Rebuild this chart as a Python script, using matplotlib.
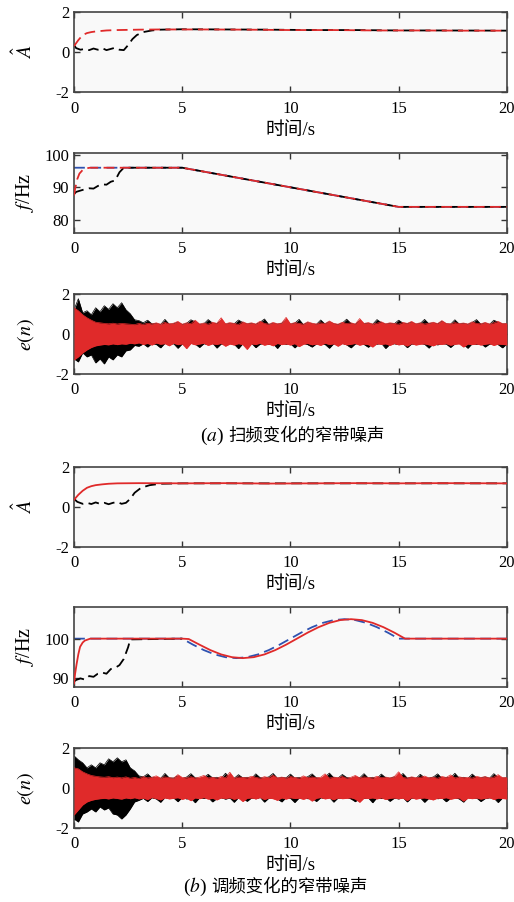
import numpy as np
import matplotlib.pyplot as plt

plt.rcParams['font.family'] = ['Liberation Serif', 'Noto Sans CJK SC']
plt.rcParams['mathtext.fontset'] = 'stix'
plt.rcParams['axes.unicode_minus'] = False
plt.rcParams['font.size'] = 12

# colores
C_RED = '#e02a2a'
C_BLUE = '#2f52b0'
C_BLK = '#000000'
BG = '#f9f9f9'

##### Datos (a): barrido de frecuencia #####
tA_a_blk = [0, 0.1, 0.3, 0.5, 0.7, 0.9, 1.1, 1.3, 1.5, 1.7, 1.9, 2.1, 2.3, 2.5, 2.7, 2.9, 3.2, 3.6, 4, 5, 7, 9, 11, 13, 15, 17, 20]
A_a_blk = [0.35, 0.2, 0.12, 0.16, 0.1, 0.18, 0.12, 0.2, 0.1, 0.16, 0.22, 0.12, 0.1, 0.35, 0.65, 0.85, 1.0, 1.08, 1.12, 1.14, 1.13, 1.12, 1.1, 1.1, 1.08, 1.08, 1.07]
tA_a_red = [0, 0.2, 0.4, 0.6, 0.8, 1.0, 1.5, 2, 3, 4, 6, 8, 10, 12, 14, 16, 18, 20]
A_a_red = [0.3, 0.6, 0.85, 0.95, 1.0, 1.03, 1.08, 1.1, 1.12, 1.13, 1.13, 1.12, 1.1, 1.1, 1.08, 1.08, 1.07, 1.07]

tf_a_true = [0, 5, 15, 20]
f_a_true = [96, 96, 84, 84]
tf_a_blk = [0, 0.1, 0.3, 0.5, 0.7, 0.9, 1.1, 1.3, 1.5, 1.7, 1.9, 2.1, 2.3, 2.5, 5, 15, 20]
f_a_blk = [87.9, 88.6, 89.0, 89.4, 89.7, 89.6, 90.4, 90.9, 90.8, 91.7, 92.1, 94.6, 96.0, 96, 96, 84, 84]
tf_a_red = [0, 0.05, 0.15, 0.25, 0.4, 0.55, 0.75, 1.0, 5, 15, 20]
f_a_red = [87.5, 89.5, 92.5, 94.2, 95.3, 95.8, 96, 96, 96, 84, 84]

##### Datos (b): modulacion de frecuencia #####
tA_b_blk = [0, 0.15, 0.4, 0.6, 0.8, 1.0, 1.2, 1.4, 1.6, 1.8, 2.0, 2.2, 2.4, 2.6, 2.8, 3.1, 3.5, 4.0, 5, 20]
A_b_blk = [0.4, 0.25, 0.15, 0.2, 0.14, 0.22, 0.15, 0.2, 0.13, 0.2, 0.24, 0.15, 0.2, 0.4, 0.7, 0.95, 1.08, 1.15, 1.17, 1.17]
tA_b_red = [0, 0.2, 0.4, 0.6, 0.8, 1.0, 1.3, 1.6, 2.0, 3, 5, 7, 9, 11, 13, 15, 17, 20]
A_b_red = [0.35, 0.6, 0.8, 0.95, 1.03, 1.08, 1.12, 1.15, 1.17, 1.18, 1.17, 1.18, 1.16, 1.17, 1.18, 1.17, 1.18, 1.17]

tf_b_true = [0, 5, 5.5, 6, 6.5, 7, 7.5, 8, 8.5, 9, 9.5, 10, 10.5, 11, 11.5, 12, 12.5, 13, 13.5, 14, 14.5, 15, 20]
f_b_true = [100, 100, 98.45, 97.06, 95.95, 95.24, 95.0, 95.24, 95.95, 97.06, 98.45, 100, 101.55, 102.94, 104.05, 104.76, 105.0, 104.76, 104.05, 102.94, 101.55, 100, 100]
tf_b_red = [0, 0.05, 0.12, 0.2, 0.28, 0.4, 0.5, 0.75, 5, 5.3, 5.8, 6.3, 6.8, 7.3, 7.8, 8.3, 8.8, 9.3, 9.8, 10.3, 10.8, 11.3, 11.8, 12.3, 12.8, 13.3, 13.8, 14.3, 14.8, 15.3, 20]
f_b_red = [88.5, 91, 93.5, 96, 97.9, 99, 99.5, 100, 100, 99.9, 98.45, 97.06, 95.95, 95.24, 95.0, 95.24, 95.95, 97.06, 98.45, 100, 101.55, 102.94, 104.05, 104.76, 105.0, 104.76, 104.05, 102.94, 101.55, 100, 100]
tf_b_blk = [0, 0.1, 0.3, 0.5, 0.7, 0.9, 1.1, 1.3, 1.5, 1.7, 1.9, 2.1, 2.3, 2.5, 2.6, 5]
f_b_blk = [89, 89.4, 89.8, 89.5, 90.4, 90.2, 91.0, 91.3, 91.0, 92.2, 92.5, 93.2, 94.8, 97.8, 99.8, 100]

# envolventes del error e(n), una muestra cada 0.2 s
te = np.linspace(0, 20, 101)
ea_blk_up = [1.20, 1.75, 1.05, 1.15, 0.95, 1.30, 1.10, 1.40, 1.22, 1.50,
             1.30, 1.55, 1.20, 1.00, 0.70, 0.66, 0.55, 0.68, 0.50, 0.52,
             0.46, 0.72, 0.48, 0.50, 0.58, 0.46, 0.52, 0.70, 0.60, 0.47,
             0.50, 0.71, 0.54, 0.50, 0.66, 0.48, 0.52, 0.50, 0.69, 0.56,
             0.49, 0.52, 0.47, 0.58, 0.74, 0.46, 0.53, 0.48, 0.52, 0.70,
             0.48, 0.53, 0.72, 0.46, 0.56, 0.50, 0.47, 0.69, 0.49, 0.60,
             0.50, 0.46, 0.54, 0.73, 0.52, 0.47, 0.66, 0.50, 0.53, 0.47,
             0.71, 0.56, 0.48, 0.52, 0.50, 0.68, 0.54, 0.50, 0.58, 0.48,
             0.52, 0.72, 0.50, 0.55, 0.49, 0.62, 0.50, 0.48, 0.70, 0.49,
             0.52, 0.47, 0.56, 0.71, 0.48, 0.54, 0.47, 0.68, 0.58, 0.49, 0.50]
ea_blk_lo = [-1.25, -1.40, -0.95, -1.15, -1.05, -1.45, -1.25, -1.50, -1.15, -1.30,
             -1.05, -1.15, -0.85, -0.80, -0.58, -0.62, -0.50, -0.66, -0.48, -0.53,
             -0.70, -0.47, -0.52, -0.49, -0.72, -0.50, -0.55, -0.47, -0.51, -0.68,
             -0.49, -0.53, -0.46, -0.71, -0.50, -0.54, -0.48, -0.52, -0.74, -0.49,
             -0.55, -0.47, -0.69, -0.51, -0.48, -0.53, -0.50, -0.73, -0.47, -0.52,
             -0.49, -0.70, -0.51, -0.47, -0.54, -0.66, -0.50, -0.48, -0.53, -0.72,
             -0.49, -0.52, -0.47, -0.55, -0.70, -0.50, -0.48, -0.53, -0.67, -0.49,
             -0.51, -0.47, -0.73, -0.52, -0.49, -0.54, -0.48, -0.69, -0.50, -0.53,
             -0.47, -0.52, -0.71, -0.49, -0.55, -0.48, -0.51, -0.68, -0.50, -0.47,
             -0.53, -0.72, -0.49, -0.52, -0.48, -0.66, -0.51, -0.49, -0.54, -0.70, -0.50]
ea_red_up = [1.30, 1.15, 0.95, 0.80, 0.68, 0.58, 0.55, 0.52, 0.50, 0.53,
             0.49, 0.52, 0.50, 0.48, 0.46, 0.52, 0.47, 0.53, 0.49, 0.55,
             0.48, 0.57, 0.50, 0.53, 0.62, 0.48, 0.55, 0.51, 0.68, 0.49,
             0.54, 0.48, 0.58, 0.52, 0.80, 0.50, 0.56, 0.52, 0.47, 0.60,
             0.51, 0.55, 0.49, 0.63, 0.52, 0.48, 0.57, 0.50, 0.54, 0.82,
             0.50, 0.56, 0.52, 0.48, 0.60, 0.53, 0.49, 0.55, 0.51, 0.64,
             0.52, 0.48, 0.58, 0.51, 0.55, 0.49, 0.76, 0.52, 0.56, 0.49,
             0.53, 0.60, 0.50, 0.55, 0.52, 0.48, 0.57, 0.52, 0.62, 0.50,
             0.55, 0.49, 0.53, 0.58, 0.51, 0.66, 0.52, 0.50, 0.56, 0.51,
             0.54, 0.49, 0.60, 0.52, 0.50, 0.57, 0.49, 0.55, 0.62, 0.51, 0.52]
ea_red_lo = [-1.30, -1.15, -0.95, -0.80, -0.68, -0.60, -0.56, -0.53, -0.55, -0.50,
             -0.54, -0.50, -0.52, -0.47, -0.50, -0.45, -0.53, -0.48, -0.56, -0.46,
             -0.52, -0.49, -0.60, -0.47, -0.54, -0.50, -0.74, -0.48, -0.55, -0.51,
             -0.47, -0.58, -0.50, -0.53, -0.48, -0.62, -0.51, -0.56, -0.49, -0.54,
             -0.78, -0.50, -0.53, -0.47, -0.57, -0.51, -0.60, -0.48, -0.54, -0.50,
             -0.56, -0.49, -0.64, -0.52, -0.48, -0.55, -0.51, -0.58, -0.47, -0.53,
             -0.50, -0.62, -0.49, -0.55, -0.52, -0.48, -0.57, -0.51, -0.54, -0.66,
             -0.49, -0.53, -0.50, -0.58, -0.48, -0.55, -0.52, -0.61, -0.49, -0.56,
             -0.52, -0.50, -0.55, -0.60, -0.51, -0.53, -0.49, -0.57, -0.52, -0.50,
             -0.66, -0.51, -0.54, -0.50, -0.56, -0.52, -0.49, -0.58, -0.51, -0.53, -0.55]

eb_blk_up = [1.60, 1.40, 1.25, 1.00, 1.15, 1.00, 1.25, 1.15, 1.45, 1.30,
             1.50, 1.30, 1.40, 1.00, 0.85, 0.60, 0.55, 0.70, 0.50, 0.53,
             0.47, 0.72, 0.50, 0.49, 0.60, 0.47, 0.54, 0.71, 0.50, 0.48,
             0.52, 0.68, 0.50, 0.53, 0.47, 0.73, 0.52, 0.48, 0.66, 0.50,
             0.53, 0.47, 0.70, 0.51, 0.49, 0.55, 0.72, 0.48, 0.52, 0.50,
             0.69, 0.49, 0.53, 0.47, 0.56, 0.70, 0.50, 0.48, 0.54, 0.74,
             0.51, 0.49, 0.67, 0.52, 0.48, 0.55, 0.50, 0.71, 0.49, 0.53,
             0.47, 0.69, 0.51, 0.48, 0.55, 0.50, 0.72, 0.49, 0.53, 0.47,
             0.68, 0.51, 0.49, 0.54, 0.70, 0.48, 0.52, 0.50, 0.73, 0.49,
             0.53, 0.47, 0.69, 0.51, 0.50, 0.55, 0.48, 0.71, 0.52, 0.49, 0.50]
eb_blk_lo = [-1.55, -1.70, -1.30, -1.20, -1.05, -1.20, -0.95, -1.10, -1.00, -1.30,
             -1.35, -1.55, -1.35, -1.05, -0.70, -0.62, -0.52, -0.68, -0.49, -0.55,
             -0.72, -0.48, -0.53, -0.50, -0.69, -0.47, -0.55, -0.51, -0.74, -0.49,
             -0.52, -0.48, -0.70, -0.53, -0.49, -0.56, -0.50, -0.72, -0.48, -0.52,
             -0.67, -0.50, -0.54, -0.47, -0.71, -0.51, -0.49, -0.55, -0.70, -0.48,
             -0.52, -0.73, -0.50, -0.48, -0.54, -0.51, -0.68, -0.49, -0.53, -0.47,
             -0.71, -0.50, -0.52, -0.48, -0.55, -0.69, -0.49, -0.53, -0.50, -0.74,
             -0.48, -0.52, -0.49, -0.67, -0.51, -0.55, -0.48, -0.70, -0.50, -0.53,
             -0.49, -0.72, -0.51, -0.48, -0.54, -0.50, -0.69, -0.52, -0.49, -0.55,
             -0.71, -0.48, -0.52, -0.50, -0.68, -0.53, -0.49, -0.51, -0.73, -0.50, -0.52]
eb_red_up = [1.00, 0.95, 0.80, 0.70, 0.62, 0.58, 0.55, 0.53, 0.56, 0.51,
             0.54, 0.50, 0.55, 0.48, 0.52, 0.47, 0.56, 0.50, 0.53, 0.60,
             0.49, 0.55, 0.51, 0.48, 0.66, 0.52, 0.50, 0.56, 0.49, 0.54,
             0.62, 0.50, 0.53, 0.48, 0.57, 0.51, 0.78, 0.49, 0.55, 0.52,
             0.50, 0.58, 0.53, 0.48, 0.56, 0.51, 0.63, 0.50, 0.54, 0.49,
             0.57, 0.52, 0.48, 0.60, 0.51, 0.55, 0.50, 0.53, 0.70, 0.49,
             0.54, 0.51, 0.57, 0.48, 0.53, 0.62, 0.50, 0.55, 0.52, 0.49,
             0.58, 0.51, 0.54, 0.50, 0.56, 0.80, 0.52, 0.49, 0.55, 0.51,
             0.53, 0.59, 0.50, 0.54, 0.48, 0.57, 0.52, 0.65, 0.50, 0.55,
             0.51, 0.53, 0.49, 0.58, 0.52, 0.56, 0.50, 0.54, 0.66, 0.51, 0.52]
eb_red_lo = [-1.35, -1.10, -0.85, -0.70, -0.62, -0.57, -0.54, -0.52, -0.55, -0.50,
             -0.53, -0.56, -0.50, -0.54, -0.49, -0.55, -0.51, -0.58, -0.48, -0.53,
             -0.60, -0.50, -0.55, -0.52, -0.49, -0.57, -0.51, -0.64, -0.50, -0.54,
             -0.48, -0.56, -0.52, -0.60, -0.50, -0.53, -0.49, -0.57, -0.51, -0.68,
             -0.52, -0.50, -0.55, -0.48, -0.58, -0.51, -0.54, -0.62, -0.50, -0.56,
             -0.49, -0.53, -0.51, -0.57, -0.50, -0.66, -0.52, -0.48, -0.55, -0.51,
             -0.59, -0.50, -0.54, -0.52, -0.49, -0.56, -0.72, -0.51, -0.53, -0.50,
             -0.55, -0.49, -0.58, -0.52, -0.50, -0.54, -0.51, -0.63, -0.49, -0.56,
             -0.52, -0.50, -0.55, -0.60, -0.51, -0.53, -0.49, -0.57, -0.52, -0.50,
             -0.66, -0.51, -0.54, -0.50, -0.56, -0.52, -0.49, -0.58, -0.51, -0.53, -0.55]

xticks = [0, 5, 10, 15, 20]

#Figura
fig = plt.figure(figsize=(5.14, 9.02), dpi=100)
L, W, H = 0.144, 0.842, 0.089
bottoms = [0.8977, 0.7417, 0.5854, 0.3936, 0.2384, 0.082]
axs = [fig.add_axes([L, b, W, H]) for b in bottoms]

def estilo(ax, ylim, yticks, ylabel):
    ax.set_facecolor(BG)
    ax.set_xlim(0, 20)
    ax.set_ylim(*ylim)
    ax.set_xticks(xticks)
    ax.set_yticks(yticks)
    ax.tick_params(direction='in', top=True, right=True, length=4, width=1, colors='#333333', labelcolor='black', labelsize=12)
    ax.tick_params(axis='x', pad=6)
    for s in ax.spines.values():
        s.set_color('#444444')
        s.set_linewidth(1.2)
    ax.set_xlabel('时间/s', fontsize=13.5, va='center')
    ax.xaxis.set_label_coords(0.5, -0.47)
    ax.set_ylabel(ylabel, fontsize=14.5, va='center')
    ax.yaxis.set_label_coords(-0.113, 0.5)

def dash(ax, x, y, c, z):
    ax.plot(x, y, color=c, lw=1.3, dashes=(6, 3), zorder=z)

def ruido(ax, lo, up, c, z):
    # banda de ruido
    ax.fill_between(te, lo, up, color=c, lw=0, zorder=z)
    ax.plot(te, up, color=c, lw=0.5, zorder=z)
    ax.plot(te, lo, color=c, lw=0.5, zorder=z)

# (a) amplitud
ax = axs[0]
dash(ax, tA_a_blk, A_a_blk, C_BLK, 2)
dash(ax, tA_a_red, A_a_red, C_RED, 3)
estilo(ax, (-2, 2), [-2, 0, 2], r'$\hat{A}$')

# (a) frecuencia
ax = axs[1]
dash(ax, tf_a_true, f_a_true, C_BLUE, 1)
dash(ax, tf_a_blk, f_a_blk, C_BLK, 2)
dash(ax, tf_a_red, f_a_red, C_RED, 3)
estilo(ax, (76, 100.6), [80, 90, 100], r'$f$/Hz')

# (a) error
ax = axs[2]
ruido(ax, ea_blk_lo, ea_blk_up, C_BLK, 2)
ruido(ax, ea_red_lo, ea_red_up, C_RED, 3)
estilo(ax, (-2, 2), [-2, 0, 2], r'$e(n)$')

# (b) amplitud
ax = axs[3]
dash(ax, tA_b_blk, A_b_blk, C_BLK, 2)
ax.plot(tA_b_red, A_b_red, color=C_RED, lw=1.3, zorder=3)
estilo(ax, (-2, 2), [-2, 0, 2], r'$\hat{A}$')

# (b) frecuencia
ax = axs[4]
dash(ax, tf_b_true, f_b_true, C_BLUE, 1)
dash(ax, tf_b_blk, f_b_blk, C_BLK, 2)
ax.plot(tf_b_red, f_b_red, color=C_RED, lw=1.3, zorder=3)
estilo(ax, (87.6, 108.2), [90, 100], r'$f$/Hz')

# (b) error
ax = axs[5]
ruido(ax, eb_blk_lo, eb_blk_up, C_BLK, 2)
ruido(ax, eb_red_lo, eb_red_up, C_RED, 3)
estilo(ax, (-2, 2), [-2, 0, 2], r'$e(n)$')

# titulos de cada grupo: "(a)" con mathtext y el texto chino aparte
def titulo(xs, ypix, letra, texto):
    y = 1 - ypix / 902
    fig.text(xs / 514, y, r'($%s$)' % letra, ha='right', va='center', fontsize=14)
    fig.text((xs + 4) / 514, y, texto, ha='left', va='center', fontsize=12.5)

titulo(224, 436, 'a', '扫频变化的窄带噪声')
titulo(207, 887, 'b', '调频变化的窄带噪声')

fig.savefig('out.png', dpi=100)
